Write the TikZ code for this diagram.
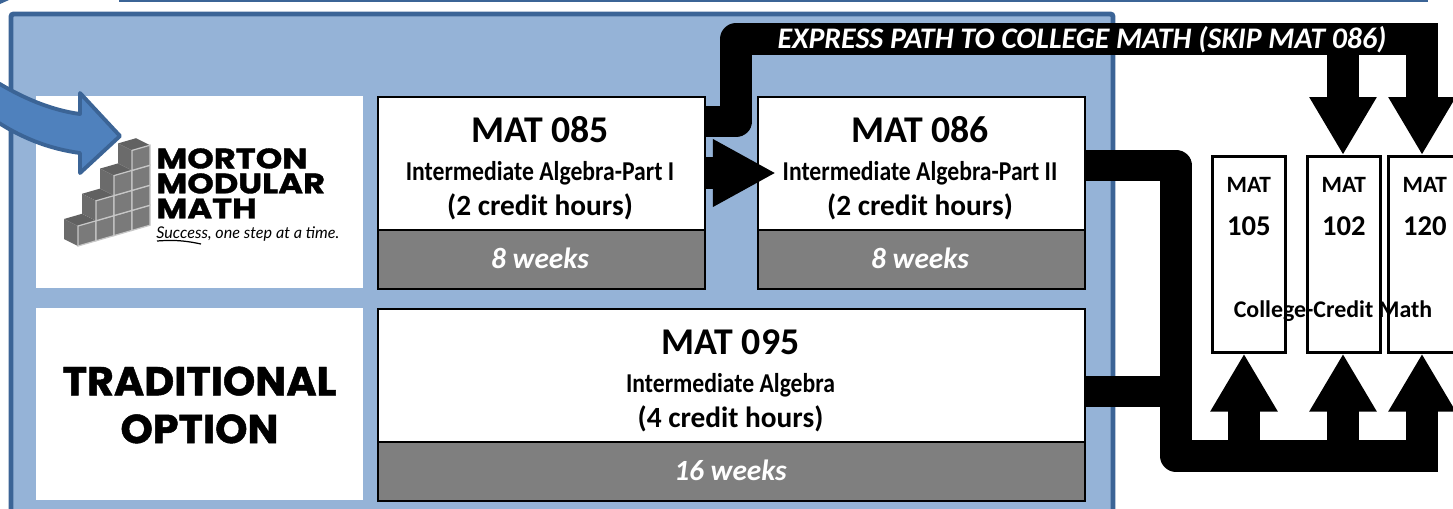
\documentclass[tikz,border=0pt]{standalone}
\usepackage{fontspec}
\setmainfont{Carlito}
\newfontfamily\narrowfont[FakeStretch=0.87]{Carlito}
\newfontfamily\logofont[FakeStretch=1.2,BoldFeatures={FakeBold=1.2}]{Poppins}
\newfontfamily\optionfont[FakeStretch=1.02,BoldFeatures={FakeBold=1.2}]{Poppins}
\newfontfamily\sloganfont{Lato}
\usetikzlibrary{positioning,calc,arrows.meta}
\definecolor{panelblue}{HTML}{95B3D7}
\definecolor{paneledge}{HTML}{3B6496}
\definecolor{pointerblue}{HTML}{4F81BD}
\definecolor{bargray}{HTML}{7F7F7F}
\tikzset{
    coursebox/.style={draw=black, line width=1.2pt, fill=white, anchor=north west, inner sep=0pt, minimum height=2.66cm},
    weekbar/.style={draw=black, line width=1.2pt, fill=bargray, anchor=north west, inner sep=0pt, minimum height=1.18cm},
    logobox/.style={fill=white, anchor=north west, inner sep=0pt, minimum width=6.54cm, minimum height=3.84cm},
    mathbox/.style={draw=black, line width=1.5pt, fill=white, anchor=north west, inner sep=0pt, minimum width=1.46cm, minimum height=3.92cm},
    pathline/.style={line width=18pt, line join=round, draw=black},
    patharrow/.style={line width=18pt, draw=black, -{Triangle[length=33pt, width=36pt]}},
    courseid/.style={anchor=base, inner sep=0pt, font=\fontsize{21.5}{24}\selectfont\bfseries},
    coursename/.style={anchor=base, inner sep=0pt, font=\narrowfont\fontsize{15.5}{18}\selectfont\bfseries},
    coursehours/.style={anchor=base, inner sep=0pt, font=\fontsize{16.7}{20}\selectfont\bfseries},
    weeklabel/.style={anchor=base, inner sep=0pt, text=white, font=\fontsize{16.7}{20}\selectfont\bfseries\itshape},
    mathlabel/.style={anchor=base, inner sep=0pt, font=\fontsize{13.3}{16}\selectfont\bfseries},
    logotext/.style={anchor=north west, inner sep=0pt, align=left, font=\logofont\fontsize{16}{14.2}\selectfont\bfseries},
    optiontext/.style={anchor=center, inner sep=0pt, align=center, font=\optionfont\fontsize{23}{27.2}\selectfont\bfseries}
}
\begin{document}
\begin{tikzpicture}[x=0.02cm, y=-0.02cm]
    \useasboundingbox (0,0) rectangle (1453,508);
    \clip (0,0) rectangle (1453,508);

    % Panel behind the course boxes
    \fill[paneledge] (119,0) rectangle (1428,2);
    \fill[paneledge] (0,0) -- (9,0) -- (0,4) -- cycle;
    \draw[fill=panelblue, draw=paneledge, line width=2.8pt, rounded corners=1.5pt] (11,14) rectangle (1113,540);

    % Boxes on the left
    \node[logobox] (logo) at (36,96) {};
    \node[logobox] (traditional) at (36,308) {};

    % Course boxes
    \node[coursebox, minimum width=6.54cm] (box085) at (377,96) {};
    \node[weekbar, minimum width=6.54cm] (bar085) at (377,229) {};
    \node[coursebox, minimum width=6.54cm] (box086) at (757,96) {};
    \node[weekbar, minimum width=6.54cm] (bar086) at (757,229) {};
    \node[coursebox, minimum width=14.14cm] (box095) at (377,308) {};
    \node[weekbar, minimum width=14.14cm] (bar095) at (377,441) {};

    % College-credit boxes
    \node[mathbox] (math105) at (1211,155) {};
    \node[mathbox] (math102) at (1306,155) {};
    \node[mathbox] (math120) at (1387,155) {};

    % Express path over the panel
    \coordinate (expressleft) at (736,39);
    \coordinate (express102) at (1343,39);
    \coordinate (express120) at (1422,39);
    \draw[pathline] (box085.east |- 0,121.5) -- (736,121.5) -- (expressleft) -- (express102);
    \draw[patharrow] (express102) -- (express102 |- math102.north);
    \draw[patharrow, line join=miter] (express102) -- (express120) -- (express120 |- math120.north);

    % Normal path
    \coordinate (start085) at (704,173);
    \coordinate (end085) at (776,173);
    \draw[line width=18pt, draw=black, -{Triangle[length=36pt, width=36pt]}] (start085) -- (end085);

    \coordinate (bend086) at (1176,165.5);
    \coordinate (bendbus) at (1176,456);
    \coordinate (busend) at (1438,456);
    \coordinate (bus105) at (1244,456);
    \coordinate (bus102) at (1343,456);
    \coordinate (bus120) at (1422,456);
    \draw[pathline] (box086.east |- bend086) -- (bend086) -- (bendbus) -- (busend);
    \draw[line width=18pt] (box095.east |- 0,391.5) -- (bendbus |- 0,391.5);
    \foreach \busname/\boxname in {bus105/math105, bus102/math102, bus120/math120}
        \draw[patharrow] (\busname) -- (\busname |- \boxname.south);

    % Texts of the course boxes
    \node[courseid] (id085) at (540,142) {MAT 085};
    \node[coursename] (name085) at (540,180) {Intermediate Algebra-Part I};
    \node[coursehours] (hours085) at (540,215) {(2 credit hours)};
    \node[weeklabel] (weeks085) at (540,268) {8 weeks};
    \node[courseid] (id086) at (920,142) {MAT 086};
    \node[coursename] (name086) at (920,180) {Intermediate Algebra-Part II};
    \node[coursehours] (hours086) at (920,215) {(2 credit hours)};
    \node[weeklabel] (weeks086) at (920,268) {8 weeks};
    \node[courseid] (id095) at (730.5,354) {MAT 095};
    \node[coursename] (name095) at (730.5,392) {Intermediate Algebra};
    \node[coursehours] (hours095) at (730.5,427) {(4 credit hours)};
    \node[weeklabel] (weeks095) at (730.5,480) {16 weeks};
    \node[anchor=base, inner sep=0pt, text=white, font=\fontsize{17}{20}\selectfont\bfseries\itshape] (expresslabel) at (1082,48) {EXPRESS PATH TO COLLEGE MATH (SKIP MAT 086)};

    % Texts of the college boxes
    \foreach \boxname/\num in {math105/105, math102/102, math120/120} {
        \node[mathlabel] (mat\num) at (\boxname.center |- 0,192) {MAT};
        \node[anchor=base, inner sep=0pt, font=\fontsize{16.3}{20}\selectfont\bfseries] (num\num) at (\boxname.center |- 0,235) {\num};
    }
    \node[anchor=base, inner sep=0pt, font=\fontsize{13.6}{16}\selectfont\bfseries] (collegelabel) at (1333,317) {College-Credit Math};

    % Logo: stair of cubes
    \foreach \col in {0,...,3} {
        \pgfmathtruncatemacro{\rows}{\col}
        \fill[black!62] (78+18*\col-14,246-5.2*\col-20*\rows-20-7) -- (78+18*\col,246-5.2*\col-20*\rows-20) -- (78+18*\col+18,246-5.2*\col-5.2-20*\rows-20) -- (78+18*\col+4,246-5.2*\col-5.2-20*\rows-27) -- cycle;
        \fill[black!58] (78+18*\col-14,246-5.2*\col-20*\rows-20-7) -- (78+18*\col,246-5.2*\col-20*\rows-20) -- (78+18*\col,246-5.2*\col-20*\rows) -- (78+18*\col-14,246-5.2*\col-20*\rows-7) -- cycle;
        \foreach \row in {0,...,\rows}
            \draw[fill=black!52, draw=black!22, line width=0.7pt] (78+18*\col,246-5.2*\col-20*\row) -- (96+18*\col,246-5.2*\col-5.2-20*\row) -- (96+18*\col,246-5.2*\col-5.2-20*\row-20) -- (78+18*\col,246-5.2*\col-20*\row-20) -- cycle;
    }
    \node[logotext] (logotext) at (156,148) {MORTON\\MODULAR\\MATH\\[-2.85pt]{\sloganfont\fontsize{9.2}{11}\selectfont\mdseries\itshape Success, one step at a time.}};
    \draw[line width=0.7pt] (157,241) to[bend left=8] (201,244);

    % Traditional label
    \node[optiontext] (optionlabel) at (199.5,405) {TRADITIONAL\\OPTION};

    % Curved pointer
    \draw[fill=pointerblue, draw=paneledge, line width=2.2pt, line join=round] (-10,78) .. controls (20,97) and (50,110) .. (80,114) -- (80,93) -- (120,136) -- (80,173) -- (80,153) .. controls (50,149) and (20,138) .. (-10,117) -- cycle;
\end{tikzpicture}
\end{document}
